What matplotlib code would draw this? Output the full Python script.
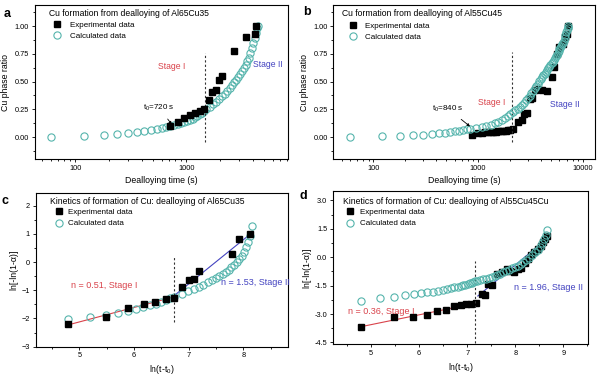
import numpy as np
import matplotlib
matplotlib.use("Agg")
import matplotlib.pyplot as plt
from matplotlib import ticker
from matplotlib.lines import Line2D

plt.rcParams['font.family'] = ['Liberation Sans', 'DejaVu Sans']
plt.rcParams['mathtext.fontset'] = 'custom'
plt.rcParams['mathtext.rm'] = 'Liberation Sans'

# ---------------- data ----------------
# (a) Al65Cu35 : Cu phase ratio vs dealloying time (s)
a_calc_t = [60, 120, 180, 240, 300, 360, 420, 480, 540, 600, 660, 720,
            780, 840, 900, 960, 1020, 1080, 1140, 1200, 1260, 1320, 1380, 1440, 1500,
            1620, 1740, 1860, 1980, 2100, 2220, 2340, 2460, 2580, 2700, 2820, 2940,
            3060, 3180, 3300, 3420, 3540, 3660, 3780, 3900, 4020, 4140, 4260, 4380, 4440]
a_calc_ratio = [0.005, 0.013, 0.022, 0.03, 0.038, 0.05, 0.058, 0.066, 0.074, 0.08, 0.088, 0.096,
                0.105, 0.114, 0.123, 0.133, 0.143, 0.154, 0.166, 0.178, 0.191, 0.205, 0.219, 0.234, 0.25,
                0.273, 0.296, 0.319, 0.342, 0.366, 0.39, 0.414, 0.439, 0.465, 0.492, 0.517, 0.543,
                0.569, 0.596, 0.624, 0.653, 0.683, 0.714, 0.76, 0.80, 0.845, 0.89, 0.935, 0.98, 1.0]
a_exp_t = [720, 840, 960, 1080, 1200, 1340, 1460, 1590, 1720, 1850, 1960, 2080, 2720, 3470, 4120, 4270]
a_exp_ratio = [0.10, 0.132, 0.175, 0.198, 0.216, 0.234, 0.252, 0.337, 0.409, 0.421, 0.517, 0.55,
               0.772, 0.898, 0.931, 0.997]
a_stage_t = 1470

# (b) Al55Cu45 : Cu phase ratio vs dealloying time (s)
b_calc_t = [60, 120, 180, 240, 300, 360, 420, 480, 540, 600, 660, 720, 780, 840,
            960, 1080, 1200, 1320, 1440, 1560, 1680, 1800, 1920, 2040, 2160, 2280, 2400, 2520,
            2640, 2760, 2880, 3000, 3120, 3240, 3360, 3480, 3600, 3720, 3840, 3960, 4080, 4200,
            4320, 4440, 4560, 4680, 4800, 4920, 5040, 5160, 5280, 5400, 5520, 5640, 5760, 5880,
            6000, 6120, 6240, 6360, 6480, 6600, 6720, 6840, 6960, 7080, 7200, 7280]
b_calc_ratio = [0.004, 0.008, 0.013, 0.018, 0.023, 0.028, 0.033, 0.039, 0.045, 0.051, 0.057, 0.063, 0.069, 0.075,
                0.082, 0.09, 0.101, 0.112, 0.125, 0.14, 0.155, 0.172, 0.19, 0.208, 0.224, 0.24, 0.257, 0.274,
                0.29, 0.307, 0.33, 0.352, 0.374, 0.395, 0.417, 0.44, 0.461, 0.482, 0.502, 0.521, 0.539, 0.556,
                0.572, 0.587, 0.603, 0.618, 0.634, 0.65, 0.666, 0.681, 0.697, 0.713, 0.728, 0.744, 0.76, 0.775,
                0.79, 0.806, 0.822, 0.837, 0.852, 0.87, 0.895, 0.92, 0.945, 0.965, 0.985, 1.0]
b_exp_t = [871, 1008, 1082, 1164, 1254, 1335, 1399, 1479, 1563, 1651, 1744, 1840, 1947, 2039, 2142,
           2426, 2616, 2751, 2959, 3137, 3292, 3503, 3769, 4113, 4528, 5060, 5322, 5647, 5976, 6528,
           6765, 7036, 7300]
b_exp_ratio = [0.022, 0.036, 0.04, 0.043, 0.045, 0.047, 0.049, 0.05, 0.051, 0.054, 0.058, 0.059, 0.06, 0.064,
               0.069, 0.135, 0.15, 0.205, 0.22, 0.346, 0.35, 0.42, 0.436, 0.427, 0.414, 0.54, 0.63, 0.75,
               0.81, 0.84, 0.90, 0.93, 1.0]
b_stage_t = 2130

# (c) Al65Cu35 : ln[-ln(1-a)] vs ln(t-t0)
c_calc_x = [4.79, 5.19, 5.48, 5.70, 5.89, 6.04, 6.17, 6.29, 6.40, 6.49, 6.58, 6.66, 6.73,
            6.87, 6.98, 7.09, 7.19, 7.27, 7.35, 7.43, 7.50, 7.56, 7.62, 7.68, 7.73, 7.78, 7.83,
            7.88, 7.92, 7.97, 8.01, 8.05, 8.08, 8.12, 8.15]
c_calc_y = [-2.03, -1.94, -1.87, -1.79, -1.72, -1.65, -1.59, -1.53, -1.47, -1.41, -1.35, -1.29, -1.23,
            -1.12, -1.03, -0.95, -0.87, -0.8, -0.72, -0.64, -0.56, -0.49, -0.42, -0.35, -0.27, -0.19, -0.1,
            0.0, 0.1, 0.22, 0.36, 0.52, 0.7, 0.92, 1.28]
c_exp_x = [4.79, 5.49, 5.89, 6.18, 6.39, 6.59, 6.74, 6.88, 7.0, 7.1, 7.19, 7.79, 7.92, 8.12]
c_exp_y = [-2.21, -1.96, -1.62, -1.49, -1.42, -1.32, -1.26, -0.9, -0.64, -0.6, -0.31, 0.30, 0.81, 0.98]
c_fit1_x = [4.79, 6.74]
c_fit1_y = [-2.23, -1.23]
c_fit2_x = [6.74, 8.13]
c_fit2_y = [-1.18, 1.0]
c_stage_x = 6.74

# (d) Al55Cu45 : ln[-ln(1-a)] vs ln(t-t0)
d_calc_x = [4.79, 5.19, 5.48, 5.70, 5.89, 6.04, 6.17, 6.29, 6.40, 6.49, 6.58, 6.66, 6.73, 6.80,
            6.86, 6.91, 6.96, 7.01, 7.05, 7.09, 7.13, 7.17, 7.21, 7.27, 7.33, 7.39, 7.45, 7.51, 7.57,
            7.63, 7.69, 7.75, 7.81, 7.87, 7.93, 7.99, 8.05, 8.11, 8.17, 8.23, 8.29, 8.35, 8.41, 8.47,
            8.52, 8.56, 8.60, 8.63, 8.66]
d_calc_y = [-2.30, -2.18, -2.10, -2.01, -1.96, -1.90, -1.86, -1.82, -1.77, -1.73, -1.69, -1.65, -1.60, -1.56,
            -1.52, -1.48, -1.45, -1.41, -1.38, -1.35, -1.32, -1.28, -1.25, -1.21, -1.17, -1.13, -1.09, -1.04, -0.99,
            -0.93, -0.87, -0.80, -0.72, -0.65, -0.58, -0.51, -0.44, -0.36, -0.25, -0.14, -0.02, 0.10, 0.25, 0.40,
            0.56, 0.74, 0.95, 1.18, 1.45]
d_exp_x = [4.79, 5.48, 5.88, 6.17, 6.38, 6.56, 6.73, 6.86, 6.97, 7.07, 7.18, 7.30, 7.37, 7.43, 7.52,
           7.62, 7.72, 7.82, 7.90, 7.97, 8.05, 8.12, 8.2, 8.26, 8.33, 8.4, 8.47, 8.53, 8.58, 8.62, 8.65]
d_exp_y = [-3.67, -3.14, -3.18, -3.05, -2.86, -2.77, -2.58, -2.52, -2.48, -2.46, -2.41, -1.96, -2.0, -1.43, -1.45,
           -0.88, -0.78, -0.62, -0.74, -0.80, -0.62, -0.55, -0.3, -0.1, 0.1, 0.28, 0.45, 0.6, 0.8, 0.95, 1.1]
d_fit1_x = [4.79, 7.2]
d_fit1_y = [-3.67, -2.42]
d_fit2_x = [7.22, 8.65]
d_fit2_y = [-2.05, 0.95]
d_stage_x = 7.17

TEAL = '#55b4ac'
RED = '#d9434b'
BLUE = '#4343c0'

fig = plt.figure(figsize=(6, 3.78), dpi=100)
W, H = 600, 378


def px_axes(l, t, r, b):
    return fig.add_axes([l / W, 1 - b / H, (r - l) / W, (b - t) / H])


def style(ax):
    for s in ax.spines.values():
        s.set_linewidth(0.8)
    ax.tick_params(which='both', direction='out', top=False, right=False,
                   labelsize=5.3, pad=1.5, width=0.6)
    ax.tick_params(which='major', length=2.5)
    ax.tick_params(which='minor', length=1.5)


def legend(ax, x, y, pad):
    h = [Line2D([], [], ls='none', marker='s', ms=4.3, color='black'),
         Line2D([], [], ls='none', marker='o', ms=5.2, mfc='none', mec=TEAL, mew=0.8)]
    ax.legend(h, ['Experimental data', 'Calculated data'], loc='upper left',
              bbox_to_anchor=(x, y), frameon=False, fontsize=5.8, borderpad=0,
              borderaxespad=0, handlelength=1.0, handletextpad=pad, labelspacing=0.45)


def time_axes(ax, xlim, major):
    ax.set_xscale('log')
    ax.set_xlim(*xlim)
    ax.set_ylim(-0.2, 1.19)
    ax.xaxis.set_major_locator(ticker.FixedLocator(major))
    ax.xaxis.set_major_formatter(ticker.FormatStrFormatter('%d'))
    ax.xaxis.set_minor_locator(ticker.LogLocator(subs=np.arange(2, 10), numticks=20))
    ax.xaxis.set_minor_formatter(ticker.NullFormatter())
    ax.yaxis.set_major_locator(ticker.MultipleLocator(0.25))
    ax.yaxis.set_minor_locator(ticker.AutoMinorLocator(2))
    ax.yaxis.set_major_formatter(ticker.FormatStrFormatter('%.2f'))
    ax.set_xlabel('Dealloying time (s)', fontsize=6.3, labelpad=3)
    ax.set_ylabel('Cu phase ratio', fontsize=6.3, labelpad=3)


# ---------------- (a) ----------------
ax = px_axes(34.5, 5, 288.3, 159.3)
style(ax)
time_axes(ax, (43, 8300), [100, 1000])
ax.plot(a_calc_t, a_calc_ratio, ls='none', marker='o', ms=5.2, mfc='none', mec=TEAL, mew=0.8, zorder=2)
ax.plot(a_exp_t, a_exp_ratio, ls='none', marker='s', ms=4.3, color='black', zorder=3)
ax.plot([a_stage_t, a_stage_t], [-0.045, 0.757], color='#333333', lw=0.8, ls=(0, (2, 2)))
ax.text(741, 0.637, 'Stage I', color=RED, fontsize=6.2, ha='center', va='center')
ax.text(5483, 0.652, 'Stage II', color=BLUE, fontsize=6.2, ha='center', va='center')
ax.annotate('t$_\\mathregular{0}$=720 s', xy=(741, 0.114), xytext=(569, 0.265), fontsize=5.8,
            ha='center', va='center',
            arrowprops=dict(arrowstyle='-|>', lw=0.6, color='black', mutation_scale=4, shrinkA=3, shrinkB=0))
ax.text(0.057, 0.942, 'Cu formation from dealloying of Al65Cu35', transform=ax.transAxes,
        fontsize=6.2, va='center')
legend(ax, 0.073, 0.896, 1.1)

# ---------------- (b) ----------------
ax = px_axes(333.3, 5, 595, 159.3)
style(ax)
time_axes(ax, (41.5, 13100), [100, 1000, 10000])
ax.plot(b_exp_t, b_exp_ratio, ls='none', marker='s', ms=4.3, color='black', zorder=2)
ax.plot(b_calc_t, b_calc_ratio, ls='none', marker='o', ms=5.2, mfc='none', mec=TEAL, mew=0.8, zorder=3)
ax.plot([b_stage_t, b_stage_t], [-0.045, 0.766], color='#333333', lw=0.8, ls=(0, (2, 2)))
ax.text(1353, 0.315, 'Stage I', color=RED, fontsize=6.2, ha='center', va='center')
ax.text(6776, 0.295, 'Stage II', color=BLUE, fontsize=6.2, ha='center', va='center')
ax.annotate('t$_\\mathregular{0}$=840 s', xy=(838, 0.096), xytext=(517, 0.256), fontsize=5.8,
            ha='center', va='center',
            arrowprops=dict(arrowstyle='-|>', lw=0.6, color='black', mutation_scale=4, shrinkA=3, shrinkB=0))
ax.text(0.035, 0.942, 'Cu formation from dealloying of Al55Cu45', transform=ax.transAxes,
        fontsize=6.2, va='center')
legend(ax, 0.061, 0.889, 0.95)


def kinetic_axes(ax):
    ax.xaxis.set_minor_locator(ticker.AutoMinorLocator(2))
    ax.yaxis.set_minor_locator(ticker.AutoMinorLocator(2))
    ax.set_xlabel('ln(t-t$_\\mathregular{0}$)', fontsize=6.3, labelpad=3)
    ax.set_ylabel('ln[-ln(1-\u03b1)]', fontsize=6.3, labelpad=2)


# ---------------- (c) ----------------
ax = px_axes(35.5, 193, 288.3, 346.7)
style(ax)
ax.set_xlim(4.2, 8.82)
ax.set_ylim(-3, 2.45)
ax.xaxis.set_major_locator(ticker.MultipleLocator(1))
ax.yaxis.set_major_locator(ticker.MultipleLocator(1))
kinetic_axes(ax)
ax.plot(c_fit1_x, c_fit1_y, color=RED, lw=0.8, zorder=1)
ax.plot(c_fit2_x, c_fit2_y, color=BLUE, lw=0.8, zorder=1)
ax.plot(c_calc_x, c_calc_y, ls='none', marker='o', ms=5.2, mfc='none', mec=TEAL, mew=0.8, zorder=2)
ax.plot(c_exp_x, c_exp_y, ls='none', marker='s', ms=4.3, color='black', zorder=3)
ax.plot([c_stage_x, c_stage_x], [-2.12, 0.2], color='#333333', lw=0.8, ls=(0, (2, 2)))
ax.text(4.85, -0.83, 'n = 0.51, Stage I', color=RED, fontsize=6.5, va='center')
ax.text(7.59, -0.73, 'n = 1.53, Stage II', color=BLUE, fontsize=6.5, va='center')
ax.text(0.057, 0.946, 'Kinetics of formation of Cu: dealloying of Al65Cu35', transform=ax.transAxes,
        fontsize=6.2, va='center')
legend(ax, 0.077, 0.899, 0.66)

# ---------------- (d) ----------------
ax = px_axes(332.7, 191.3, 588.3, 344.3)
style(ax)
ax.set_xlim(4.2, 9.52)
ax.set_ylim(-4.6, 3.48)
ax.xaxis.set_major_locator(ticker.MultipleLocator(1))
ax.yaxis.set_major_locator(ticker.MultipleLocator(1.5))
ax.yaxis.set_major_formatter(ticker.FormatStrFormatter('%.1f'))
kinetic_axes(ax)
ax.plot(d_fit1_x, d_fit1_y, color=RED, lw=0.8, zorder=1)
ax.plot(d_fit2_x, d_fit2_y, color=BLUE, lw=0.8, zorder=1)
ax.plot(d_exp_x, d_exp_y, ls='none', marker='s', ms=4.3, color='black', zorder=2)
ax.plot(d_calc_x, d_calc_y, ls='none', marker='o', ms=5.2, mfc='none', mec=TEAL, mew=0.8, zorder=3)
ax.plot([d_stage_x, d_stage_x], [-4.55, -0.19], color='#333333', lw=0.8, ls=(0, (2, 2)))
ax.text(4.52, -2.88, 'n = 0.36, Stage I', color=RED, fontsize=6.5, va='center')
ax.text(7.98, -1.58, 'n = 1.96, Stage II', color=BLUE, fontsize=6.5, va='center')
ax.text(0.041, 0.935, 'Kinetics of formation of Cu: dealloying of Al55Cu45Cu', transform=ax.transAxes,
        fontsize=6.2, va='center')
legend(ax, 0.052, 0.888, 0.75)

# panel letters
for lx, ly, s in [(7, 14, 'a'), (307, 11.7, 'b'), (5, 201, 'c'), (303.3, 196.3, 'd')]:
    fig.text(lx / W, 1 - ly / H, s, fontsize=9, fontweight='bold', ha='center', va='center')

fig.savefig('out.png', dpi=100)
